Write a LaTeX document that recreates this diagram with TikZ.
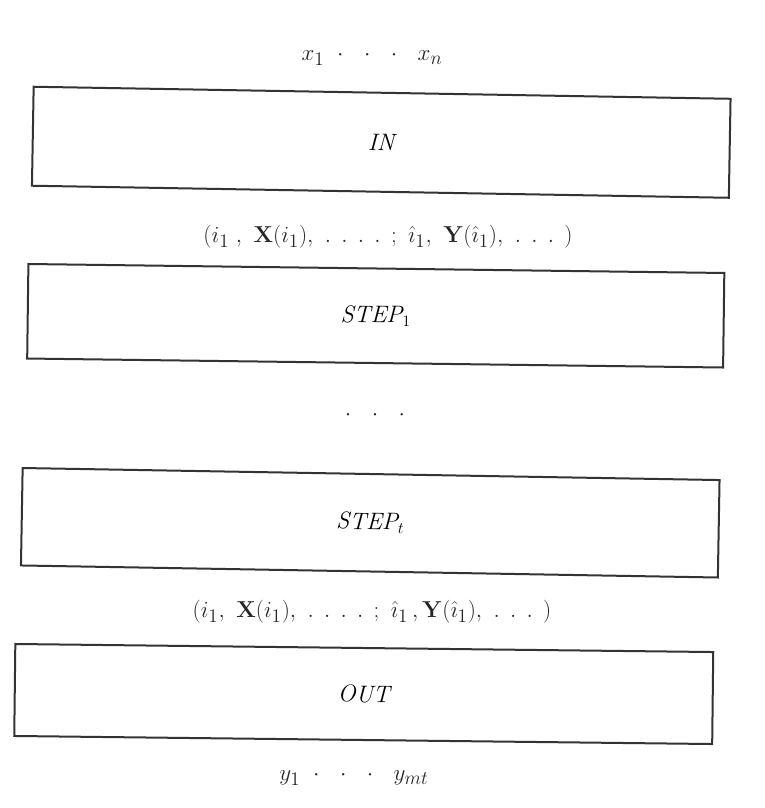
\documentclass[tikz,border=0pt]{standalone}
\usepackage{amsmath}
\begin{document}
\begin{tikzpicture}[x=0.75pt,y={(0pt,-0.75pt)},
  blockbox/.style={draw=black!80, line width=1.5pt, inner sep=0pt, outer sep=0pt, font=\fontsize{18}{22}\selectfont\itshape},
  lbl/.style={inner sep=0pt, font=\fontsize{19}{23}\selectfont, text=black!85}]
\useasboundingbox (0,0) rectangle (765,808);
\node[blockbox, rotate=-0.99, minimum width=522.75pt, minimum height=74.25pt] (in) at (381.25,142.25) {IN};
\node[blockbox, rotate=-0.74, minimum width=522pt, minimum height=70.9pt] (s1) at (375.75,315.75) {STEP$_1$};
\node[blockbox, rotate=-0.99, minimum width=522.75pt, minimum height=73.1pt] (st) at (370.25,522.75) {STEP$_t$};
\node[blockbox, rotate=-0.66, minimum width=523.5pt, minimum height=69pt] (out) at (363.75,694) {OUT};
\node[lbl] (xin) at (372,58) {$x_1\ \cdot\ \ \cdot\ \ \cdot\ \ x_n$};
\node[lbl] (l1) at (388,237) {$(i_1\;,\ \mathbf{X}(i_1),\ .\;\,.\;\,.\;\,.\;\,;\ \hat{\imath}_1,\ \mathbf{Y}(\hat{\imath}_1),\ .\;\,.\;\,.\;\,)$};
\node[lbl] (dots) at (375,415) {$\cdot\ \ \cdot\ \ \cdot$};
\node[lbl] (l2) at (372,612) {$(i_1,\ \mathbf{X}(i_1),\ .\;\,.\;\,.\;\,.\;\,;\ \hat{\imath}_1\,,\mathbf{Y}(\hat{\imath}_1),\ .\;\,.\;\,.\;\,)$};
\node[lbl] (yout) at (354,778) {$y_1\ \cdot\ \ \cdot\ \ \cdot\ \ y_{mt}$};
\end{tikzpicture}
\end{document}
